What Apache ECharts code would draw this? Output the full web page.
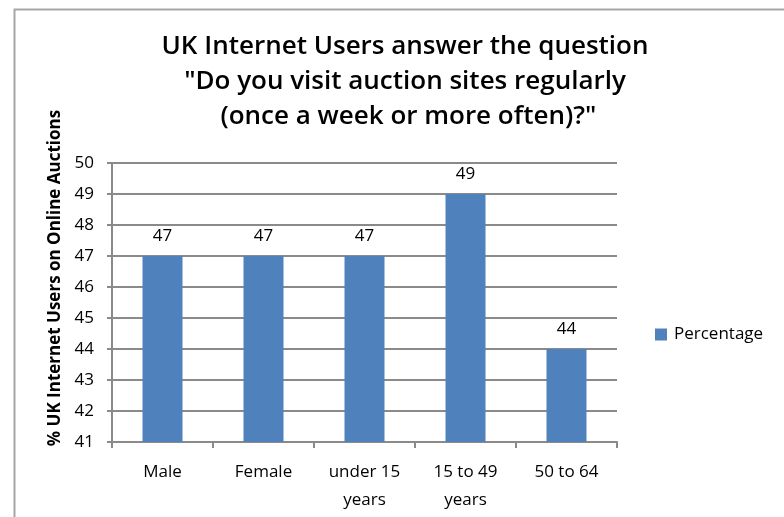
<!DOCTYPE html>
<html>
<head>
<meta charset="utf-8">
<style>
  html, body { margin: 0; padding: 0; background: #fff; }
  #chart { width: 784px; height: 517px; }
</style>
<script src="https://cdn.jsdelivr.net/npm/echarts@6/dist/echarts.min.js"></script>
</head>
<body>
<div id="chart"></div>
<script>
// categories and values
var categories = ['Male', 'Female', 'under 15\nyears', '15 to 49\nyears', '50 to 64'];
var percentage = [47, 47, 47, 49, 44];
var yTicks = [41, 42, 43, 44, 45, 46, 47, 48, 49, 50];

var fontFam = '"Open Sans", "Noto Sans", sans-serif';
var lineGray = '#8a8a8a';

var chart = echarts.init(document.getElementById('chart'));
var option = {
  backgroundColor: '#fff',
  animation: false,
  title: {
    text: 'UK Internet Users answer the question\n"Do you visit auction sites regularly\n (once a week or more often)?"',
    left: 400,
    top: 24,
    textAlign: 'center',
    textStyle: {
      fontFamily: fontFam,
      fontSize: 26,
      fontWeight: 600,
      color: '#000',
      lineHeight: 35
    }
  },
  legend: {
    data: ['Percentage'],
    left: 650,
    top: 321,
    itemWidth: 12,
    itemHeight: 12,
    itemGap: 4,
    icon: 'rect',
    textStyle: { fontFamily: fontFam, fontSize: 17, color: '#000', padding: [0, 0, 0, 2] }
  },
  grid: { left: 112, right: 167, top: 163, bottom: 75 },
  xAxis: {
    type: 'category',
    data: categories,
    axisLine: { lineStyle: { color: lineGray, width: 2 } },
    axisTick: { show: true, length: 6, alignWithLabel: false, lineStyle: { color: lineGray, width: 2 } },
    axisLabel: {
      margin: 16,
      fontFamily: fontFam,
      fontSize: 17,
      color: '#000',
      lineHeight: 28
    }
  },
  yAxis: {
    type: 'value',
    min: yTicks[0],
    max: yTicks[yTicks.length - 1],
    interval: 1,
    axisLine: { show: true, lineStyle: { color: lineGray, width: 2 } },
    axisTick: { show: true, inside: false, length: 5, lineStyle: { color: lineGray, width: 2 } },
    splitLine: { lineStyle: { color: lineGray, width: 2 } },
    axisLabel: {
      margin: 18,
      fontFamily: fontFam,
      fontSize: 17,
      color: '#000'
    }
  },
  graphic: [
    {
      type: 'rect',
      left: 12, top: 7,
      shape: { width: 800, height: 600 },
      style: { fill: 'none', stroke: '#a6a6a6', lineWidth: 2 },
      silent: true
    },
    {
      type: 'text',
      x: 55, y: 278,
      rotation: Math.PI / 2,
      style: {
        text: '% UK Internet Users on Online Auctions',
        fontFamily: fontFam,
        fontSize: 17,
        fontWeight: 'bold',
        fill: '#000',
        align: 'center',
        verticalAlign: 'middle'
      }
    }
  ],
  series: [
    {
      name: 'Percentage',
      type: 'bar',
      data: percentage,
      barWidth: 40,
      itemStyle: { color: '#4f81bd' },
      label: {
        show: true,
        position: 'top',
        distance: 11,
        fontFamily: fontFam,
        fontSize: 17,
        color: '#000'
      }
    }
  ]
};
chart.setOption(option);
</script>
</body>
</html>
